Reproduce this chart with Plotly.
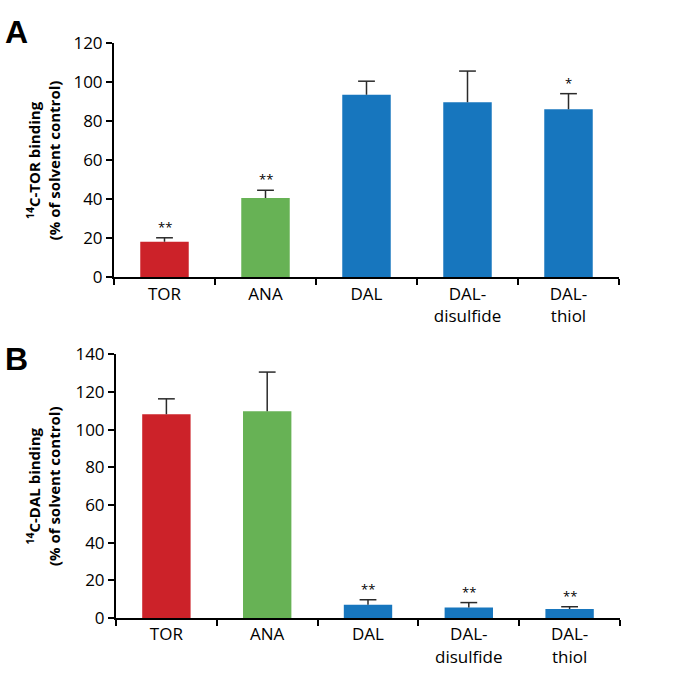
import plotly.graph_objects as go

categories = ["TOR", "ANA", "DAL", "DAL-<br>disulfide", "DAL-<br>thiol"]
bar_colors = ["#CC2229", "#67B255", "#1776BE", "#1776BE", "#1776BE"]

tor_binding = [18.2, 40.6, 93.6, 89.8, 86.2]
tor_err = [2.0, 4.0, 7.0, 16.0, 8.0]
tor_sig = ["**", "**", "", "", "*"]

dal_binding = [108.1, 109.7, 7.0, 5.6, 4.8]
dal_err = [8.2, 20.8, 2.7, 2.6, 1.2]
dal_sig = ["", "", "**", "**", "**"]

FONT = "Open Sans"
ERR_COLOR = "#2a2a2a"
W, H = 680, 688

def px_x(p):
    return p / W

def px_y(p):
    return 1 - p / H

fig = go.Figure()

for vals, errs, xa, ya in [(tor_binding, tor_err, "x", "y"), (dal_binding, dal_err, "x2", "y2")]:
    # bars with the upward error stem (no cross-bars)
    fig.add_trace(go.Bar(
        x=categories, y=vals, width=0.48,
        marker=dict(color=bar_colors, line=dict(width=0)),
        error_y=dict(type="data", array=errs, arrayminus=[0] * len(errs), symmetric=False,
                     color=ERR_COLOR, thickness=1.5, width=0),
        xaxis=xa, yaxis=ya, showlegend=False,
    ))
    # cap at the top of each error bar only
    fig.add_trace(go.Scatter(
        x=categories, y=[v + e for v, e in zip(vals, errs)], mode="markers",
        marker=dict(symbol="line-ew", size=12, line=dict(width=1.5, color=ERR_COLOR)),
        xaxis=xa, yaxis=ya, showlegend=False, hoverinfo="skip", cliponaxis=False,
    ))

axis_common = dict(showline=True, linecolor="black", linewidth=2, ticks="outside",
                   tickcolor="black", tickwidth=2, ticklen=6, showgrid=False, zeroline=False,
                   tickfont=dict(family=FONT, size=17, color="black"))

fig.update_layout(
    width=W, height=H, margin=dict(l=0, r=0, t=0, b=0),
    paper_bgcolor="white", plot_bgcolor="white",
    xaxis=dict(domain=[px_x(114), px_x(619)], anchor="y", type="category", range=[-0.5, 4.5],
               tickson="boundaries", **axis_common),
    yaxis=dict(domain=[px_y(274.3), px_y(32.5)], anchor="x", range=[0, 120], dtick=20,
               **axis_common),
    xaxis2=dict(domain=[px_x(116), px_x(620)], anchor="y2", type="category", range=[-0.5, 4.5],
                tickson="boundaries", **axis_common),
    yaxis2=dict(domain=[px_y(627), px_y(354)], anchor="x2", range=[0, 140], dtick=20,
                **axis_common),
)

annotations = []
for vals, errs, sig, xr, yr in [(tor_binding, tor_err, tor_sig, "x", "y"),
                                (dal_binding, dal_err, dal_sig, "x2", "y2")]:
    for c, v, e, s in zip(categories, vals, errs, sig):
        if s:
            annotations.append(dict(x=c, y=v + e, xref=xr, yref=yr, text=s, showarrow=False,
                                    yanchor="bottom", yshift=0,
                                    font=dict(family=FONT, size=13, color="black")))

annotations += [
    dict(x=px_x(43), y=(px_y(274.3) + px_y(32.5)) / 2, xref="paper", yref="paper",
         text="<b><sup>14</sup>C-TOR binding<br>(% of solvent control)</b>", textangle=-90,
         xanchor="center", yanchor="middle",
         showarrow=False, font=dict(family=FONT, size=15, color="black"), align="center"),
    dict(x=px_x(43), y=(px_y(627) + px_y(354)) / 2, xref="paper", yref="paper",
         text="<b><sup>14</sup>C-DAL binding<br>(% of solvent control)</b>", textangle=-90,
         xanchor="center", yanchor="middle",
         showarrow=False, font=dict(family=FONT, size=15, color="black"), align="center"),
    dict(x=px_x(3), y=px_y(0), xref="paper", yref="paper", text="<b>A</b>", showarrow=False,
         xanchor="left", yanchor="top", font=dict(family="Liberation Sans", size=32, color="black")),
    dict(x=px_x(3), y=px_y(338), xref="paper", yref="paper", text="<b>B</b>", showarrow=False,
         xanchor="left", yanchor="top", font=dict(family="Liberation Sans", size=32, color="black")),
]
fig.update_layout(annotations=annotations)

fig.write_html("out.html", config={"displayModeBar": False},
               post_script="document.body.style.margin='0';")
